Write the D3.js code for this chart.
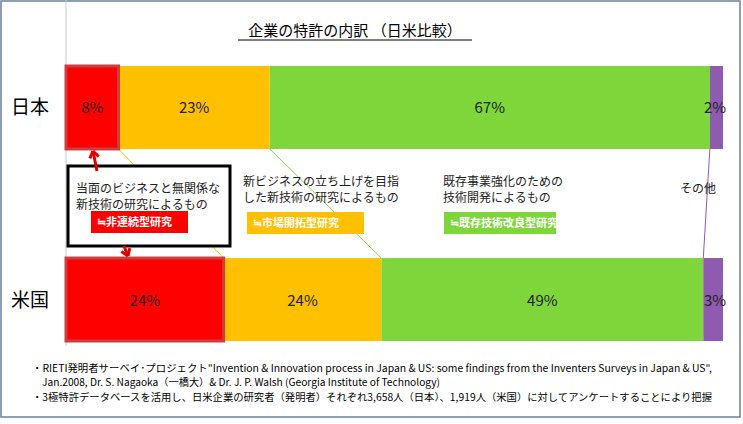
<!DOCTYPE html>
<html><head><meta charset="utf-8">
<script src="https://cdn.jsdelivr.net/npm/d3@7"></script>
<style>body{margin:0;background:#fff}text{font-family:"Noto Sans CJK JP","Noto Sans",sans-serif}</style>
</head><body><div id="chart"></div>
<script>
const countries = ["日本", "米国"];
const categories = ["非連続型研究", "市場開拓型研究", "既存技術改良型研究", "その他"];
const japanValues = [8, 23, 67, 2];
const usValues = [24, 24, 49, 3];
const colors = ["#ff0000", "#ffc000", "#7fd63a", "#8e5bb0"];
const notes = ["当面のビジネスと無関係な\n新技術の研究によるもの", "新ビジネスの立ち上げを目指\nした新技術の研究によるもの", "既存事業強化のための\n技術開発によるもの", "その他"];

const W = 743, H = 424;
const svg = d3.select("#chart").append("svg").attr("width", W).attr("height", H);
svg.append("rect").attr("x", 1).attr("y", 1).attr("width", W - 4).attr("height", H - 8)
  .attr("fill", "#fff").attr("stroke", "#6b7f99").attr("stroke-width", 1.5);

const x = d3.scaleLinear().domain([0, 100]).range([66, 723]);
const y = d3.scaleBand().domain(countries).range([66, 341]).paddingInner(0.568).paddingOuter(0);
const data = [japanValues, usValues];

svg.append("line").attr("x1", 66).attr("x2", 66).attr("y1", 0).attr("y2", 346).attr("stroke", "#c8c8c8");

svg.append("text").attr("x", 355).attr("y", 36).attr("text-anchor", "middle")
  .attr("font-size", 15).text("企業の特許の内訳 （日米比較）");
svg.append("line").attr("x1", 238).attr("x2", 472).attr("y1", 40).attr("y2", 40).attr("stroke", "#000");

const stacks = data.map(v => { let c = 0; return v.map(d => { const s = c; c += d; return [s, c]; }); });

// connector lines between bars
const yTop = y("日本") + y.bandwidth(), yBot = y("米国");
[1, 2, 3].forEach(j => {
  svg.append("line").attr("x1", x(stacks[0][j][0])).attr("y1", yTop)
    .attr("x2", x(stacks[1][j][0])).attr("y2", yBot)
    .attr("stroke", colors[j]).attr("stroke-width", 1);
});

countries.forEach((c, i) => {
  const g = svg.append("g");
  g.selectAll("rect").data(stacks[i]).join("rect")
    .attr("x", d => x(d[0])).attr("width", d => x(d[1]) - x(d[0]))
    .attr("y", y(c)).attr("height", y.bandwidth())
    .attr("fill", (d, j) => colors[j]);
  g.append("rect").attr("x", x(0)).attr("width", x(stacks[i][0][1]) - x(0))
    .attr("y", y(c)).attr("height", y.bandwidth()).attr("fill", "none")
    .attr("stroke", "#c84040").attr("stroke-width", 3);
  g.selectAll("text.v").data(stacks[i]).join("text")
    .attr("x", (d, j) => j === 3 ? x(d[1]) - 8 : (x(d[0]) + x(d[1])) / 2)
    .attr("y", y(c) + y.bandwidth() / 2 + 6).attr("text-anchor", "middle")
    .attr("font-size", 15).attr("fill", "#222").text((d, j) => data[i][j] + "%");
  svg.append("text").attr("x", 30).attr("y", y(c) + y.bandwidth() / 2 + 7)
    .attr("text-anchor", "middle").attr("font-size", 19).text(c);
});

// note box for first category
svg.append("rect").attr("x", 68).attr("y", 166).attr("width", 162).attr("height", 80)
  .attr("fill", "#fff").attr("stroke", "#000").attr("stroke-width", 3);
const noteX = [76, 243, 443, 680], noteY = [193, 186, 186, 193];
notes.forEach((n, j) => {
  const t = svg.append("text").attr("x", noteX[j]).attr("y", noteY[j]).attr("font-size", 12).attr("fill", "#222");
  n.split("\n").forEach((l, k) => t.append("tspan").attr("x", noteX[j]).attr("dy", k ? 16 : 0).text(l));
});
const tagX = [91, 247, 444], tagW = [97, 117, 112], tagY = [211, 212, 212];
[0, 1, 2].forEach(j => {
  svg.append("rect").attr("x", tagX[j]).attr("y", tagY[j]).attr("width", tagW[j]).attr("height", 22).attr("fill", colors[j]);
  svg.append("text").attr("x", tagX[j] + 6).attr("y", tagY[j] + 15).attr("font-size", 11).attr("font-weight", "bold")
    .attr("fill", "#fff").text("≒" + categories[j]);
});

// red arrows
const arrow = (x1, y1, x2, y2) => {
  svg.append("line").attr("x1", x1).attr("y1", y1).attr("x2", x2).attr("y2", y2).attr("stroke", "#e00000").attr("stroke-width", 3);
  const a = Math.atan2(y2 - y1, x2 - x1);
  [-0.6, 0.6].forEach(d => svg.append("line").attr("x1", x2).attr("y1", y2)
    .attr("x2", x2 - 8 * Math.cos(a + d)).attr("y2", y2 - 8 * Math.sin(a + d))
    .attr("stroke", "#e00000").attr("stroke-width", 3));
};
arrow(97, 171, 93, 151);
arrow(124, 246, 128, 256);

const foot = [
  ["・RIETI発明者サーベイ･プロジェクト\"Invention & Innovation process in Japan & US: some findings from the Inventers Surveys in Japan & US\",", 32, 372],
  ["Jan.2008, Dr. S. Nagaoka（一橋大）& Dr. J. P. Walsh (Georgia Institute of Technology)", 42, 386],
  ["・3極特許データベースを活用し、日米企業の研究者（発明者）それぞれ3,658人（日本）、1,919人（米国）に対してアンケートすることにより把握", 32, 401]
];
foot.forEach(f => svg.append("text").attr("x", f[1]).attr("y", f[2]).attr("font-size", 10)
  .attr("textLength", f === foot[1] ? 398 : 680).attr("lengthAdjust", "spacingAndGlyphs").text(f[0]));
</script></body></html>
